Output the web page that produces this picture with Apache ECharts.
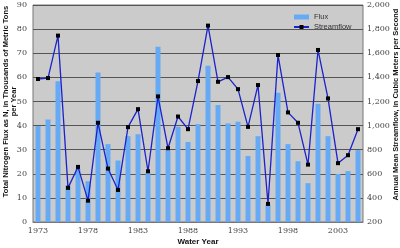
<!DOCTYPE html>
<html>
<head>
<meta charset="utf-8">
<script src="https://cdn.jsdelivr.net/npm/echarts@6/dist/echarts.min.js"></script>
<style>
  html, body { margin: 0; padding: 0; background: #fff; }
  #main { width: 400px; height: 248px; }
</style>
</head>
<body>
<div id="main"></div>
<script>
// water years
const years = [];
for (let y = 1973; y <= 2005; y++) years.push(String(y));

// total nitrogen flux, thousands of metric tons per year
const flux = [39.8, 42.5, 58.4, 15.2, 22.0, 16.9, 62.0, 32.3, 25.5, 35.6, 36.4,
  20.5, 72.7, 29.8, 39.5, 33.2, 40.6, 64.8, 48.5, 40.9, 41.6, 27.4,
  35.6, 7.3, 53.6, 32.3, 25.2, 16.1, 49.0, 35.6, 19.9, 21.1, 29.8];

// annual mean streamflow, cubic meters per second
const streamflow = [1386, 1394, 1746, 483, 657, 377, 1023, 643, 466, 987, 1136,
  621, 1242, 812, 1075, 970, 1369, 1829, 1363, 1402, 1302, 989,
  1336, 350, 1585, 1109, 1023, 676, 1627, 1225, 688, 754, 970];

const chart = echarts.init(document.getElementById('main'));

const tickFont = { fontFamily: 'DejaVu Serif', fontSize: 8, color: '#444' };
const titleFont = { fontFamily: 'Liberation Sans', fontSize: 7.5, fontWeight: 'bold', color: '#111' };

chart.setOption({
  animation: false,
  grid: {
    left: 33, right: 37, top: 5, bottom: 26,
    containLabel: false, outerBoundsMode: 'none',
    show: true, backgroundColor: '#cbcbcb', borderColor: '#777', borderWidth: 1
  },
  legend: {
    left: 288, top: 8, orient: 'vertical', align: 'left', itemGap: 2,
    itemWidth: 15, itemHeight: 5,
    textStyle: { fontFamily: 'Liberation Sans', fontSize: 7.5, color: '#333' },
    data: [{ name: 'Flux', icon: 'rect' }, { name: 'Streamflow' }]
  },
  xAxis: {
    type: 'category',
    data: years,
    name: 'Water Year',
    nameLocation: 'middle',
    nameGap: 16,
    nameMoveOverlap: false,
    nameTextStyle: Object.assign({}, titleFont, { fontSize: 8 }),
    axisLine: { lineStyle: { color: '#777' } },
    axisTick: { interval: 0, inside: true, length: 3, lineStyle: { color: '#555' } },
    axisLabel: Object.assign({ interval: 4, margin: 5 }, tickFont)
  },
  yAxis: [
    {
      type: 'value', min: 0, max: 90, interval: 10,
      name: 'Total Nitrogen Flux as N, in Thousands of Metric Tons\nper Year',
      nameLocation: 'middle', nameGap: 15, nameRotate: 90,
      nameMoveOverlap: false,
      nameTextStyle: Object.assign({ lineHeight: 8, padding: [0, 0, 0, 24] }, titleFont),
      axisLine: { show: false }, axisTick: { show: false },
      axisLabel: Object.assign({ margin: 6 }, tickFont),
      splitLine: { lineStyle: { color: '#555', width: 1 } }
    },
    {
      type: 'value', min: 200, max: 2000, interval: 200,
      name: 'Annual Mean Streamflow, in Cubic Meters per Second',
      nameLocation: 'middle', nameGap: 29, nameRotate: 90,
      nameMoveOverlap: false,
      nameTextStyle: Object.assign({ padding: [0, 0, 0, 18] }, titleFont),
      axisLine: { show: false }, axisTick: { show: false },
      axisLabel: Object.assign({
        margin: 4,
        formatter: v => v.toLocaleString('en-US')
      }, tickFont),
      splitLine: { show: false }
    }
  ],
  series: [
    {
      name: 'Flux', type: 'bar', data: flux, yAxisIndex: 0,
      barWidth: 5,
      itemStyle: { color: '#66aaf6' }
    },
    {
      name: 'Streamflow', type: 'line', data: streamflow, yAxisIndex: 1,
      symbol: 'rect', symbolSize: 4,
      lineStyle: { color: '#1a22cc', width: 1.3 },
      itemStyle: { color: '#000', borderWidth: 0 }
    }
  ]
});
</script>
</body>
</html>
